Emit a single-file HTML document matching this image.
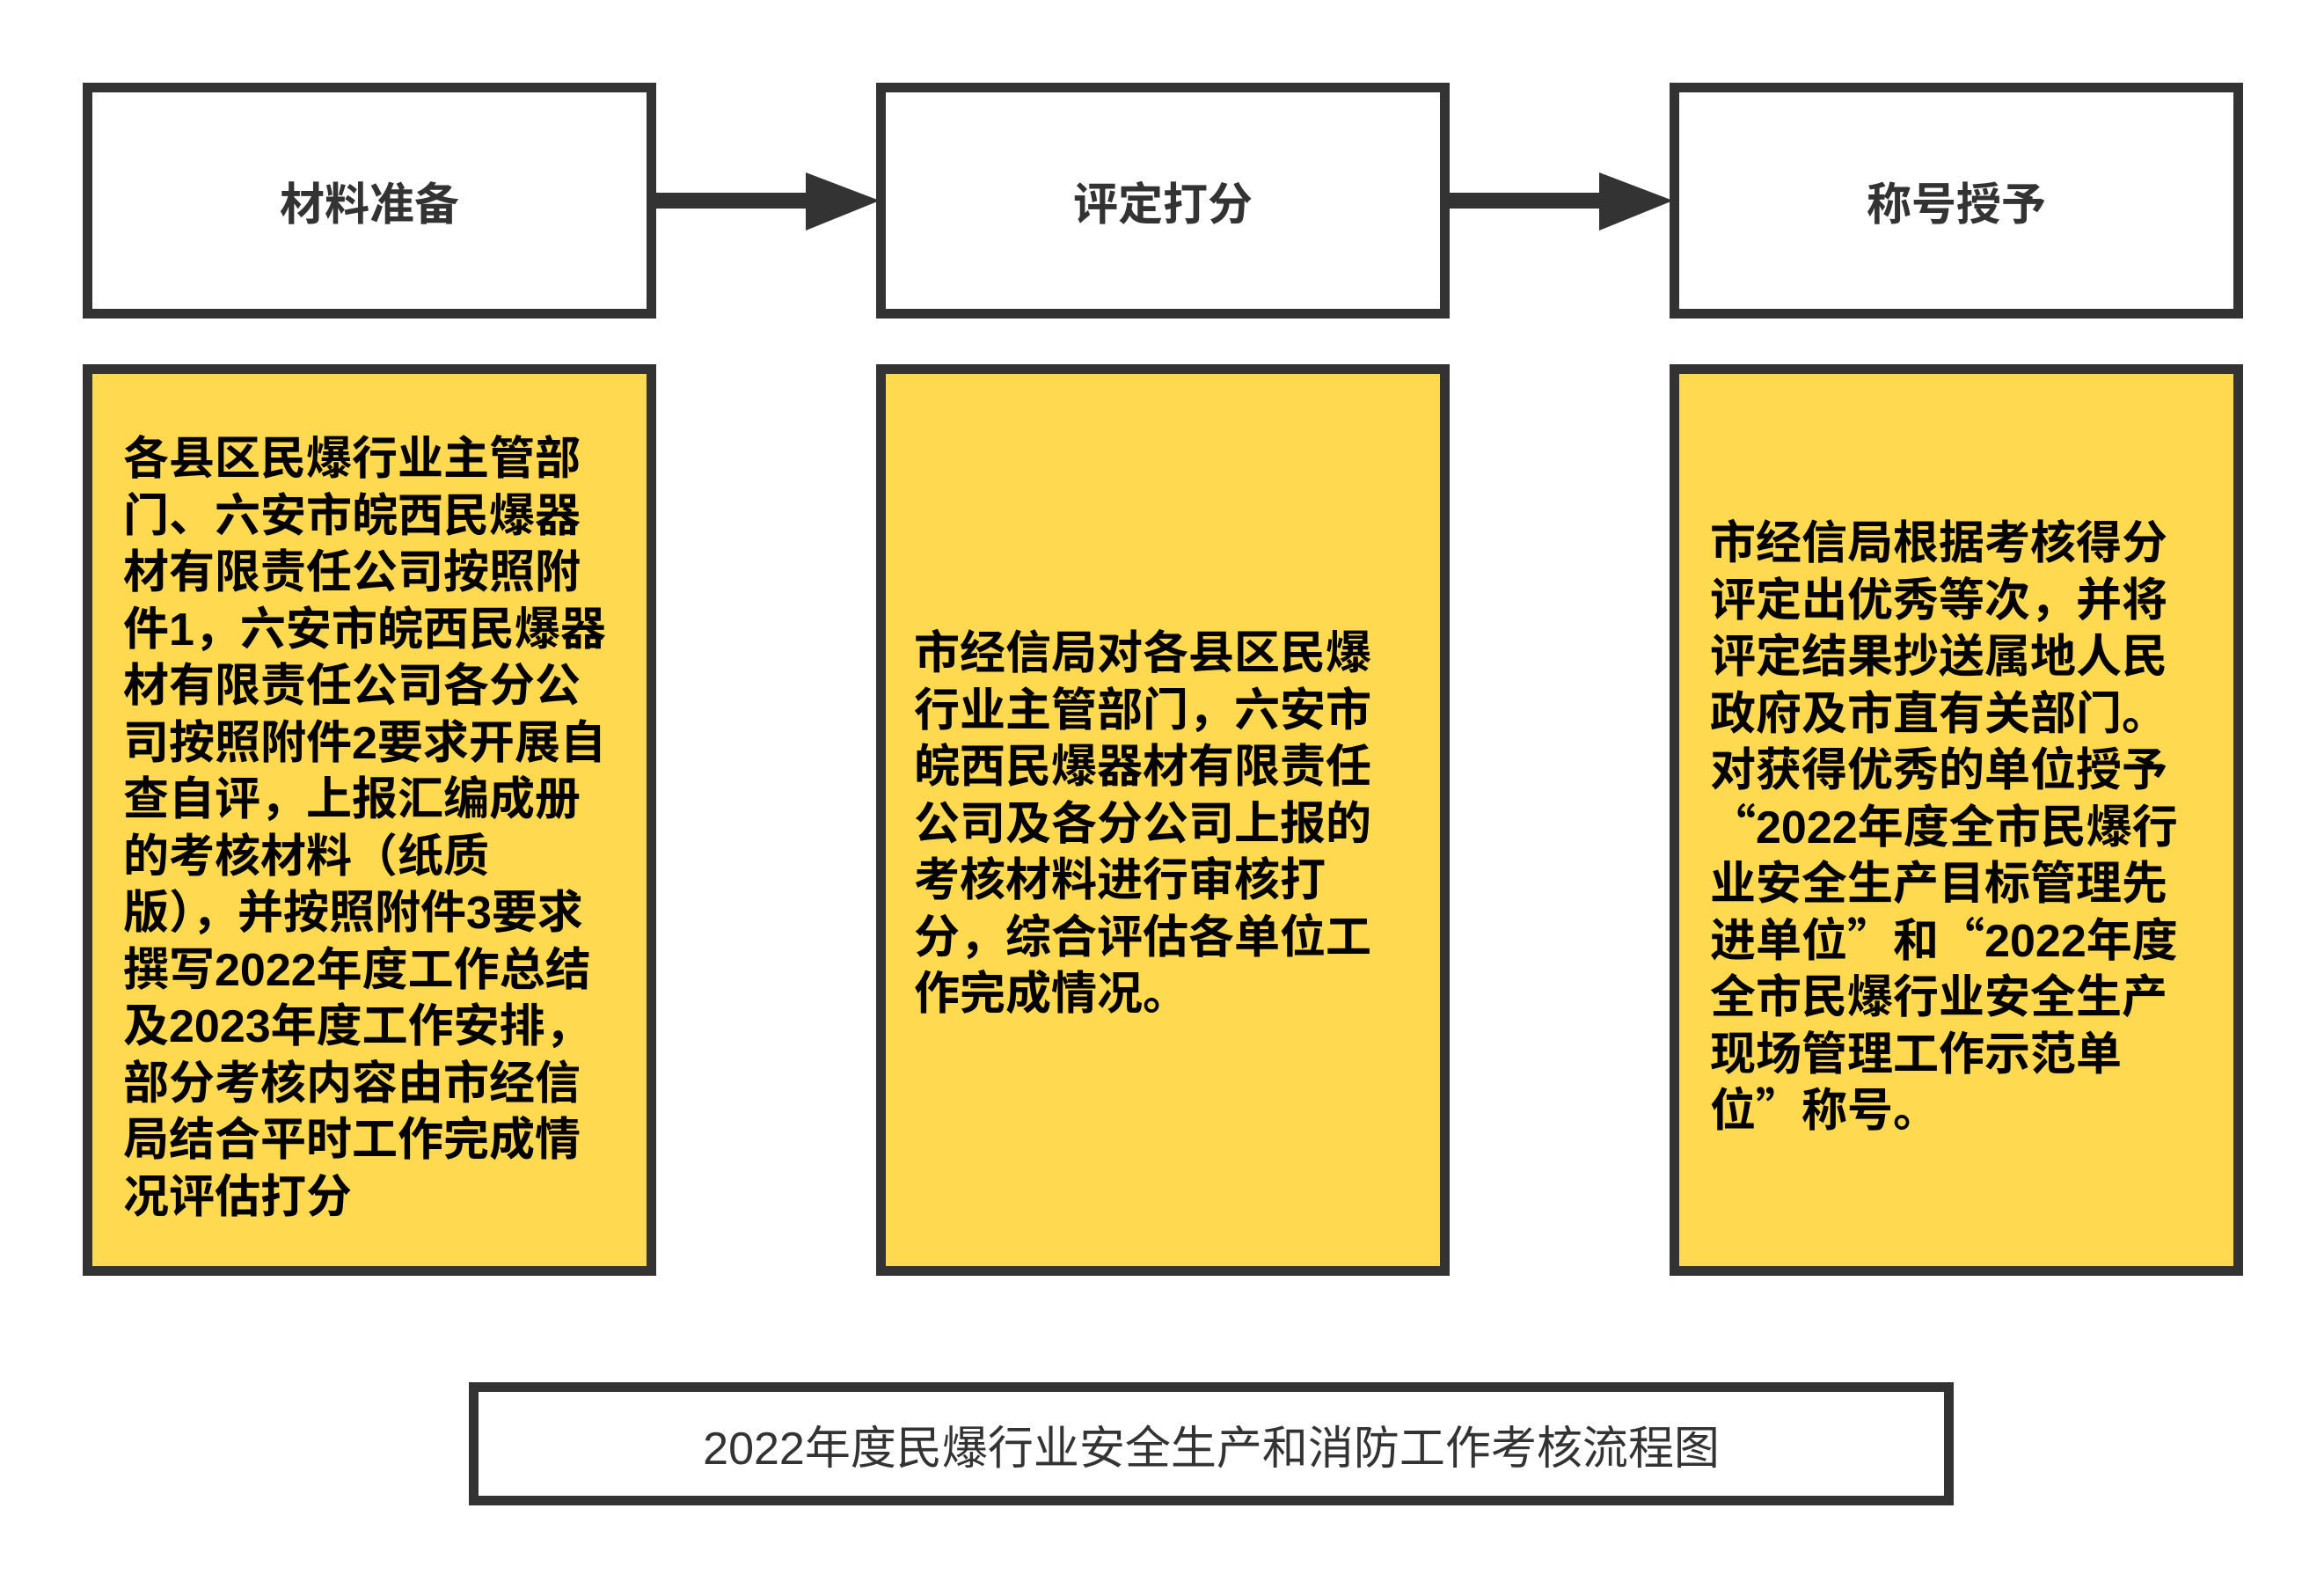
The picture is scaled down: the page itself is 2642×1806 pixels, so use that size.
<!DOCTYPE html>
<html><head><meta charset="utf-8"><style>
body{margin:0;width:2642px;height:1806px;background:#fff;position:relative;overflow:hidden;font-family:"Liberation Sans","Noto Sans CJK SC",sans-serif;}
.b{position:absolute;box-sizing:border-box;border:11px solid #333;}
.h{background:#fff;display:flex;align-items:center;justify-content:center;font-size:51px;font-weight:bold;color:#333;}
.y{background:#FFD94F;}
.t{position:absolute;font-size:52px;font-weight:bold;line-height:64.5px;color:#000;white-space:nowrap;}
.q{font-family:"Noto Sans CJK SC",sans-serif;line-height:0;}
</style></head><body>
<div class="b h" style="left:94px;top:94px;width:652px;height:268px">材料准备</div>
<div class="b h" style="left:996px;top:94px;width:652px;height:268px">评定打分</div>
<div class="b h" style="left:1898px;top:94px;width:652px;height:268px">称号授予</div>
<svg style="position:absolute;left:0;top:0" width="2642" height="400">
<rect x="746" y="219" width="175" height="18" fill="#333"/>
<polygon points="916,196 1000,228 916,262" fill="#333"/>
<rect x="1648" y="219" width="175" height="18" fill="#333"/>
<polygon points="1818,196 1902,228 1818,262" fill="#333"/>
</svg>
<div class="b y" style="left:94px;top:414px;width:652px;height:1036px"></div>
<div class="b y" style="left:996px;top:414px;width:652px;height:1036px"></div>
<div class="b y" style="left:1898px;top:414px;width:652px;height:1036px"></div>
<div class="t" style="left:140px;top:490px">各县区民爆行业主管部<br>门、六安市皖西民爆器<br>材有限责任公司按照附<br>件1，六安市皖西民爆器<br>材有限责任公司各分公<br>司按照附件2要求开展自<br>查自评，上报汇编成册<br>的考核材料（纸质<br>版），并按照附件3要求<br>撰写2022年度工作总结<br>及2023年度工作安排，<br>部分考核内容由市经信<br>局结合平时工作完成情<br>况评估打分</div>
<div class="t" style="left:1039px;top:711px">市经信局对各县区民爆<br>行业主管部门，六安市<br>皖西民爆器材有限责任<br>公司及各分公司上报的<br>考核材料进行审核打<br>分，综合评估各单位工<br>作完成情况。</div>
<div class="t" style="left:1944px;top:586px">市经信局根据考核得分<br>评定出优秀等次，并将<br>评定结果抄送属地人民<br>政府及市直有关部门。<br>对获得优秀的单位授予<br><span class="q">“</span>2022年度全市民爆行<br>业安全生产目标管理先<br>进单位<span class="q">”</span>和<span class="q">“</span>2022年度<br>全市民爆行业安全生产<br>现场管理工作示范单<br>位<span class="q">”</span>称号。</div>
<div class="b" style="left:533px;top:1571px;width:1688px;height:140px;display:flex;align-items:center;justify-content:center;font-size:52px;color:#333;">2022年度民爆行业安全生产和消防工作考核流程图</div>
</body></html>
